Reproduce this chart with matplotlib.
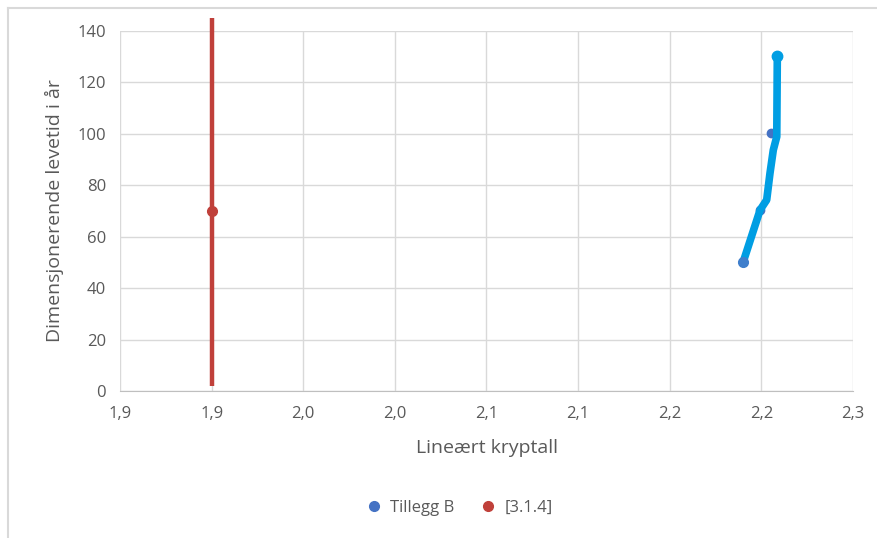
import numpy as np
import matplotlib.pyplot as plt
from matplotlib.lines import Line2D

# Tillegg B: kurve og markerte punkter
tillegg_x = [2.190, 2.1993, 2.2029, 2.2047, 2.2065, 2.2084, 2.2087]
tillegg_y = [50, 70.4, 74.3, 84.7, 93.7, 98.9, 130.3]
tillegg_pkt_x = [2.190, 2.1993, 2.2054, 2.2087]
tillegg_pkt_y = [50, 70.4, 100.2, 130.3]

# [3.1.4]: ett punkt med vertikal linje
ref_x = [1.90]
ref_y = [70]
ref_lav = 2
ref_hoy = 145

xticks = [1.85, 1.90, 1.95, 2.00, 2.05, 2.10, 2.15, 2.20, 2.25]
xtick_labels = ["1,9", "1,9", "2,0", "2,0", "2,1", "2,1", "2,2", "2,2", "2,3"]
yticks = [0, 20, 40, 60, 80, 100, 120, 140]

plt.rcParams['font.family'] = ['Open Sans', 'DejaVu Sans']
tekst = '#595959'

fig = plt.figure(figsize=(8.77, 5.38), dpi=100)
W, H = 877, 538
ax = fig.add_axes([120 / W, 1 - 391 / H, (853 - 120) / W, (391 - 31) / H])

# ramme rundt diagrammet (bare topp og venstre)
fig.add_artist(Line2D([8 / W, 8 / W], [0, 1 - 8 / H], color='#D9D9D9', lw=1.5))
fig.add_artist(Line2D([8 / W, 1], [1 - 8 / H, 1 - 8 / H], color='#D9D9D9', lw=1.5))

ax.set_xlim(1.85, 2.25)
ax.set_ylim(0, 140)
ax.set_xticks(xticks)
ax.set_xticklabels(xtick_labels)
ax.set_yticks(yticks)
ax.grid(True, color='#D9D9D9', lw=1)
ax.set_axisbelow(True)
for s in ['top', 'right', 'left']:
    ax.spines[s].set_visible(False)
ax.spines['bottom'].set_color('#BFBFBF')
ax.tick_params(length=0, colors=tekst, labelsize=12, pad=11)
ax.tick_params(axis='y', pad=10)

# rød serie
ax.plot([ref_x[0], ref_x[0]], [ref_lav, ref_hoy], color='#C0403A', lw=3.2,
        clip_on=False, solid_capstyle='butt', zorder=3)
ax.plot(ref_x, ref_y, 'o', color='#C0403A', ms=7, zorder=4)

# blå serie
ax.plot(tillegg_x, tillegg_y, color='#009EE3', lw=5.5, solid_capstyle='round',
        solid_joinstyle='round', zorder=3)
ax.plot(tillegg_pkt_x, tillegg_pkt_y, 'o', color='#4472C4', ms=6, zorder=2)
ax.plot(tillegg_pkt_x[0], tillegg_pkt_y[0], 'o', color='#3F7FCC', ms=7, zorder=4)
ax.plot(tillegg_pkt_x[-1], tillegg_pkt_y[-1], 'o', color='#009EE3', ms=7.5, zorder=4)

ax.set_xlabel("Lineært kryptall", color=tekst, fontsize=14, labelpad=12)
ax.set_ylabel("Dimensjonerende levetid i år", color=tekst, fontsize=14, labelpad=10)

h1 = Line2D([], [], marker='o', ls='none', color='#4472C4', ms=7)
h2 = Line2D([], [], marker='o', ls='none', color='#C0403A', ms=7)
fig.legend([h1, h2], ["Tillegg B", "[3.1.4]"], loc='center', bbox_to_anchor=(455 / W, 1 - 508 / H),
           ncol=2, frameon=False, handletextpad=0.0, columnspacing=1.0,
           prop={'size': 12}, labelcolor=tekst)

fig.savefig('out.png', dpi=100)
